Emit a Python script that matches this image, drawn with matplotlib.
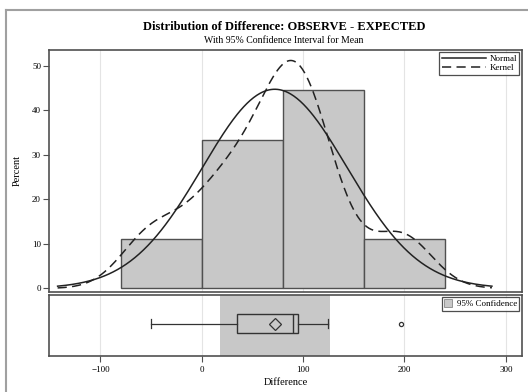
import numpy as np
import matplotlib
matplotlib.use("Agg")
import matplotlib.pyplot as plt
from matplotlib.lines import Line2D
from matplotlib.patches import Patch

# Observations (reconstructed from the histogram / box plot)
values = np.array([-50, 3, 35, 61, 90, 92, 95, 125, 197], dtype=float)
bin_edges = [-80, 0, 80, 160, 240]
ci_low, ci_high = 17.6, 126.4
kde_bandwidth = 30.0
x_ticks = [-100, 0, 100, 200, 300]
y_ticks = [0, 10, 20, 30, 40, 50]

plt.rcParams['font.family'] = ['Liberation Serif', 'DejaVu Serif']

fig = plt.figure(figsize=(5.28, 3.92), dpi=100)
W, H = 528, 392

def rect(l, t, r, b):
    return [l / W, 1 - b / H, (r - l) / W, (b - t) / H]

ax = fig.add_axes(rect(49.3, 49.5, 522, 291.5))
axb = fig.add_axes(rect(49.3, 294.5, 522, 356), sharex=ax)

spine_c = '#505050'
bar_c = '#c8c8c8'
grid_c = '#e4e4e4'

# histogram (percent)
counts, _ = np.histogram(values, bins=bin_edges)
pct = counts / len(values) * 100
widths = np.diff(bin_edges)
ax.bar(bin_edges[:-1], pct, width=widths, align='edge', color=bar_c,
       edgecolor=spine_c, linewidth=1.0, zorder=2)

# normal & kernel curves
mu = values.mean()
sd = values.std(ddof=1)
bw = widths[0]
xs = np.linspace(mu - 3 * sd, mu + 3 * sd, 400)
normal = 100 * bw * np.exp(-0.5 * ((xs - mu) / sd) ** 2) / (sd * np.sqrt(2 * np.pi))
kern = np.zeros_like(xs)
for v in values:
    kern += np.exp(-0.5 * ((xs - v) / kde_bandwidth) ** 2) / (kde_bandwidth * np.sqrt(2 * np.pi))
kern = 100 * bw * kern / len(values)
ax.plot(xs, normal, color='#222222', lw=1.1, zorder=3, label='Normal')
ax.plot(xs, kern, color='#222222', lw=1.1, ls=(0, (6, 3.5)), zorder=3, label='Kernel')

ax.set_xlim(-150.5, 316)
ax.set_ylim(-0.7, 53.6)
ax.set_yticks(y_ticks)
ax.set_xticks(x_ticks)
ax.tick_params(axis='x', bottom=False, labelbottom=False)
ax.tick_params(axis='y', direction='out', length=4, width=0.8, color=spine_c,
               labelsize=6.5, pad=2)
for a in (ax, axb):
    for s in a.spines.values():
        s.set_color(spine_c)
        s.set_linewidth(1.2)
    a.grid(axis='x', color=grid_c, lw=0.8, zorder=0)
    a.set_axisbelow(True)

leg = ax.legend(loc='upper right', fontsize=6.5, handlelength=4.9, frameon=True,
                fancybox=False, edgecolor='#222222', borderpad=0.25,
                labelspacing=0.15, handletextpad=0.4, borderaxespad=0.3)
leg.get_frame().set_linewidth(0.9)

# box plot panel
axb.axvspan(ci_low, ci_high, color=bar_c, zorder=1, lw=0)
q1 = np.percentile(values, 25, method='inverted_cdf')
med = np.median(values)
q3 = np.percentile(values, 75, method='inverted_cdf')
iqr = q3 - q1
inside = values[(values >= q1 - 1.5 * iqr) & (values <= q3 + 1.5 * iqr)]
outliers = values[(values < q1 - 1.5 * iqr) | (values > q3 + 1.5 * iqr)]
bp = axb.bxp([dict(med=med, q1=q1, q3=q3, whislo=inside.min(), whishi=inside.max(),
                   mean=mu, fliers=outliers)],
             positions=[0.49], widths=[0.32], vert=False, showmeans=True,
             patch_artist=True,
             boxprops=dict(facecolor=bar_c, edgecolor='#333333', lw=1.0),
             medianprops=dict(color='#333333', lw=1.0),
             whiskerprops=dict(color='#333333', lw=0.9),
             capprops=dict(color='#333333', lw=0.9),
             meanprops=dict(marker='D', markerfacecolor='none', markeredgecolor='#333333',
                            markersize=6.5, markeredgewidth=0.9),
             flierprops=dict(marker='o', markerfacecolor='none', markeredgecolor='#333333',
                             markersize=3, markeredgewidth=0.9))
for c in bp['caps']:
    c.set_zorder(3)
axb.set_ylim(-0.08, 1.0)
axb.set_yticks([])
axb.set_xticks(x_ticks)
axb.tick_params(axis='x', direction='out', length=4, width=0.8, color=spine_c,
                labelsize=6.5, pad=3)
axb.set_xlabel('Difference', fontsize=7.5, labelpad=3)

legb = axb.legend(handles=[Patch(facecolor=bar_c, edgecolor='#888888', lw=0.6,
                                 label='95% Confidence')],
                  loc='upper right', fontsize=6.5, frameon=True, fancybox=False,
                  edgecolor='#222222', borderpad=0.25, handlelength=0.9,
                  handleheight=0.9, handletextpad=0.5, borderaxespad=0.3)
legb.get_frame().set_linewidth(0.9)

fig.text(17 / W, 1 - 170 / H, 'Percent', rotation=90, ha='center', va='center', fontsize=7.5)
fig.text(284 / W, 1 - 27 / H, 'Distribution of Difference: OBSERVE - EXPECTED',
         ha='center', va='center', fontsize=9, fontweight='bold')
fig.text(284 / W, 1 - 40.5 / H, 'With 95% Confidence Interval for Mean',
         ha='center', va='center', fontsize=7)

# outer frame (top/left edges)
fig.add_artist(Line2D([6 / W, 1], [1 - 9.5 / H] * 2, color='#a0a0a0', lw=1.5,
                      transform=fig.transFigure))
fig.add_artist(Line2D([6 / W] * 2, [0, 1 - 9.5 / H], color='#a0a0a0', lw=1.5,
                      transform=fig.transFigure))

fig.savefig('out.png', dpi=100)
